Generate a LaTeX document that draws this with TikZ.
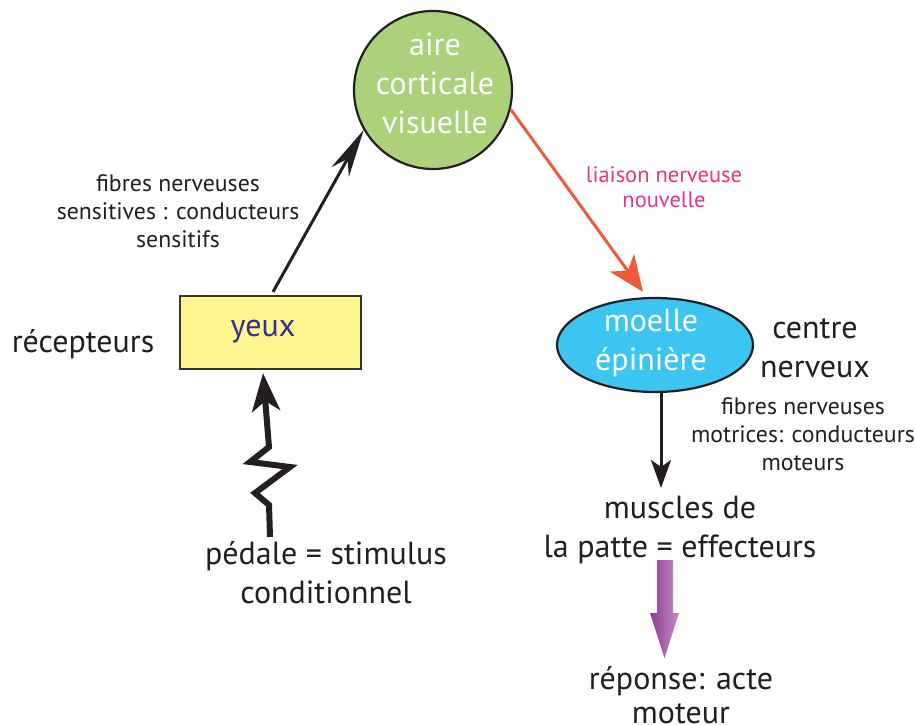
\documentclass[tikz,border=0pt]{standalone}
\usepackage{fontspec}
\setmainfont{PT Sans}
\usetikzlibrary{arrows.meta,shapes.geometric}
\definecolor{txt}{HTML}{231F20}
\definecolor{cgreen}{HTML}{ABD27B}
\definecolor{ccyan}{HTML}{3DC5F1}
\definecolor{cyellow}{HTML}{FFF58E}
\definecolor{corange}{HTML}{EE5A3B}
\definecolor{cpink}{HTML}{E8357D}
\definecolor{cblue}{HTML}{2E3192}
\definecolor{cpurpleA}{HTML}{8E3A90}
\definecolor{cpurpleB}{HTML}{C48FC6}
\newcommand\fbig{\fontsize{32}{39}\selectfont}
\newcommand\fbigtight{\fontsize{32}{34}\selectfont}
\newcommand\fsmall{\fontsize{23.8}{28}\selectfont}
\newcommand\fpink{\fontsize{22.5}{25}\selectfont}
\tikzset{
  lbl/.style={text=txt, align=center, inner sep=0pt},
  shape outline/.style={draw=txt, line width=2.2pt},
  arr/.style={draw=txt, line width=3pt},
}
\begin{document}
\begin{tikzpicture}[x=1pt,y=-1pt]
\useasboundingbox (0,0) rectangle (916,725);
% shapes
\node[circle, shape outline, fill=cgreen, minimum size=158pt, inner sep=0pt] (aire) at (433,90) {};
\node[lbl, text=white, font=\fbig] (airet) at (435,83) {aire\\corticale\\visuelle};
\node[ellipse, shape outline, fill=ccyan, minimum width=196pt, minimum height=94pt, inner sep=0pt] (moelle) at (655,345) {};
\node[lbl, text=white, font=\fbig] (moellet) at (651,343) {moelle\\épinière};
\node[rectangle, draw=txt!90, line width=2.2pt, fill=cyellow, minimum width=181pt, minimum height=73pt, inner sep=0pt] (yeux) at (270.5,332.5) {};
\node[lbl, text=cblue, font=\fbig] (yeuxt) at (263,332) {yeux};
% labels
\node[lbl, font=\fbig] (recept) at (83,344) {récepteurs};
\node[lbl, font=\fsmall] (fsens) at (178,211) {fibres nerveuses\\sensitives : conducteurs\\sensitifs};
\node[lbl, font=\fbig] (pedale) at (326,573) {pédale = stimulus\\conditionnel};
\node[lbl, text=cpink, font=\fpink] (liaison) at (664,187) {liaison nerveuse\\nouvelle};
\node[lbl, font=\fbig] (centre) at (815,348) {centre\\nerveux};
\node[lbl, font=\fsmall] (fmot) at (803,434) {fibres nerveuses\\motrices: conducteurs\\moteurs};
\node[lbl, font=\fbig] (muscles) at (680,530) {muscles de\\la patte = effecteurs};
\node[lbl, font=\fbigtight] (reponse) at (681,695) {réponse: acte\\moteur};
% connectors
\coordinate (yeuxtop) at ([xshift=2.5pt,yshift=3pt]yeux.north);
\draw[arr, -{Stealth[length=48pt,width=20pt,inset=15pt]}] (yeuxtop) -- (aire.210);
\coordinate (moelletop) at ([xshift=-12pt,yshift=5pt]moelle.north);
\draw[draw=corange, line width=3pt, -{Stealth[length=36pt,width=30pt,inset=10pt]}] (aire.-14) -- (moelletop);
\coordinate (moellebot) at ([xshift=6pt]moelle.south);
\coordinate (musclestop) at (moellebot |- 0,488);
\draw[arr, -{Stealth[length=28pt,width=20pt,inset=7pt]}] (moellebot) -- (musclestop);
\coordinate (stim) at (270,537);
\coordinate (yeuxbot) at ([xshift=-7.5pt,yshift=-3pt]yeux.south);
\draw[draw=txt, line width=6pt, line join=miter, -{Stealth[length=38pt,width=28pt,inset=10pt]}]
  (stim) -- (269,505) -- (255,493) -- (290,467) -- (250,462) -- (269,447) -- (yeuxbot);
% purple block arrow
\shade[left color=cpurpleA, right color=cpurpleB]
  (657,560) -- (673,560) -- (673,613) -- (679,613) -- (664.5,658) -- (650,613) -- (657,613) -- cycle;
\end{tikzpicture}
\end{document}
